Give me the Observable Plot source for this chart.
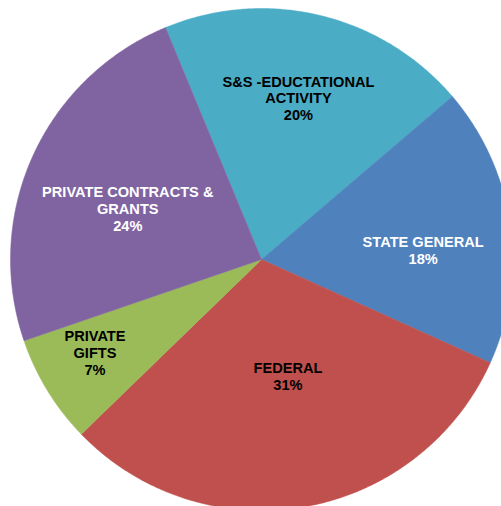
<!DOCTYPE html>
<html>
<head>
<meta charset="utf-8">
<script src="https://cdn.jsdelivr.net/npm/d3@7"></script>
<script src="https://cdn.jsdelivr.net/npm/@observablehq/plot@0.6"></script>
<style>
  html, body { margin: 0; padding: 0; background: #fff; overflow: hidden; }
  #chart svg { display: block; }
</style>
</head>
<body>
<div id="chart"></div>
<script>
// ---- data ----
const categories = ["S&S -EDUCTATIONAL ACTIVITY", "STATE GENERAL", "FEDERAL", "PRIVATE GIFTS", "PRIVATE CONTRACTS & GRANTS"];
const labelLines = ["S&S -EDUCTATIONAL\nACTIVITY", "STATE GENERAL", "FEDERAL", "PRIVATE\nGIFTS", "PRIVATE CONTRACTS &\nGRANTS"];
const shares = [20, 18, 31, 7, 24];
const colors = ["#4BACC6", "#4F81BD", "#C0504D", "#9BBB59", "#8064A2"];
const labelColors = ["#000000", "#ffffff", "#000000", "#000000", "#ffffff"];

// ---- layout ----
const W = 501, H = 506;
const R = 251, CX = 261, CY = 259;
const startDeg = -22.5;
// label placement relative to slice (radius fraction, angle offset in degrees)
const labelLayout = [[0.66, -0.6], [0.645, 4.9], [0.476, -2.9], [0.76, 2.3], [0.57, -3.5]];

const arcs = d3.pie().sort(null).value(d => d)
  .startAngle(startDeg * Math.PI / 180)
  .endAngle((startDeg + 360) * Math.PI / 180)(shares);

const pts = [];
arcs.forEach((a, i) => {
  pts.push({cat: categories[i], x: 0, y: 0});
  const n = Math.max(8, Math.ceil((a.endAngle - a.startAngle) / (Math.PI / 360)));
  for (let k = 0; k <= n; k++) {
    const t = a.startAngle + (a.endAngle - a.startAngle) * k / n;
    pts.push({cat: categories[i], x: Math.sin(t), y: Math.cos(t)});
  }
  pts.push({cat: categories[i], x: 0, y: 0});
});

const labels = arcs.map((a, i) => {
  const [rf, off] = labelLayout[i];
  const t = (a.startAngle + a.endAngle) / 2 + off * Math.PI / 180;
  return {
    text: labelLines[i] + "\n" + shares[i] + "%",
    x: rf * Math.sin(t), y: rf * Math.cos(t), color: labelColors[i]
  };
});

const chart = Plot.plot({
  width: W, height: H,
  margin: 0,
  style: {background: "#fff", overflow: "hidden"},
  x: {domain: [-CX / R, (W - CX) / R], axis: null},
  y: {domain: [-(H - CY) / R, CY / R], axis: null},
  color: {domain: categories, range: colors},
  marks: [
    Plot.line(pts, {x: "x", y: "y", z: "cat", fill: "cat", stroke: "cat", strokeWidth: 0.5, curve: "linear"}),
    Plot.text(labels, {
      x: "x", y: "y", text: "text", fill: d => d.color,
      fontSize: 14.6, fontWeight: "bold", fontFamily: "Liberation Sans, Arial, sans-serif",
      lineHeight: 1.16, textAnchor: "middle"
    })
  ]
});
document.getElementById("chart").append(chart);
</script>
</body>
</html>
